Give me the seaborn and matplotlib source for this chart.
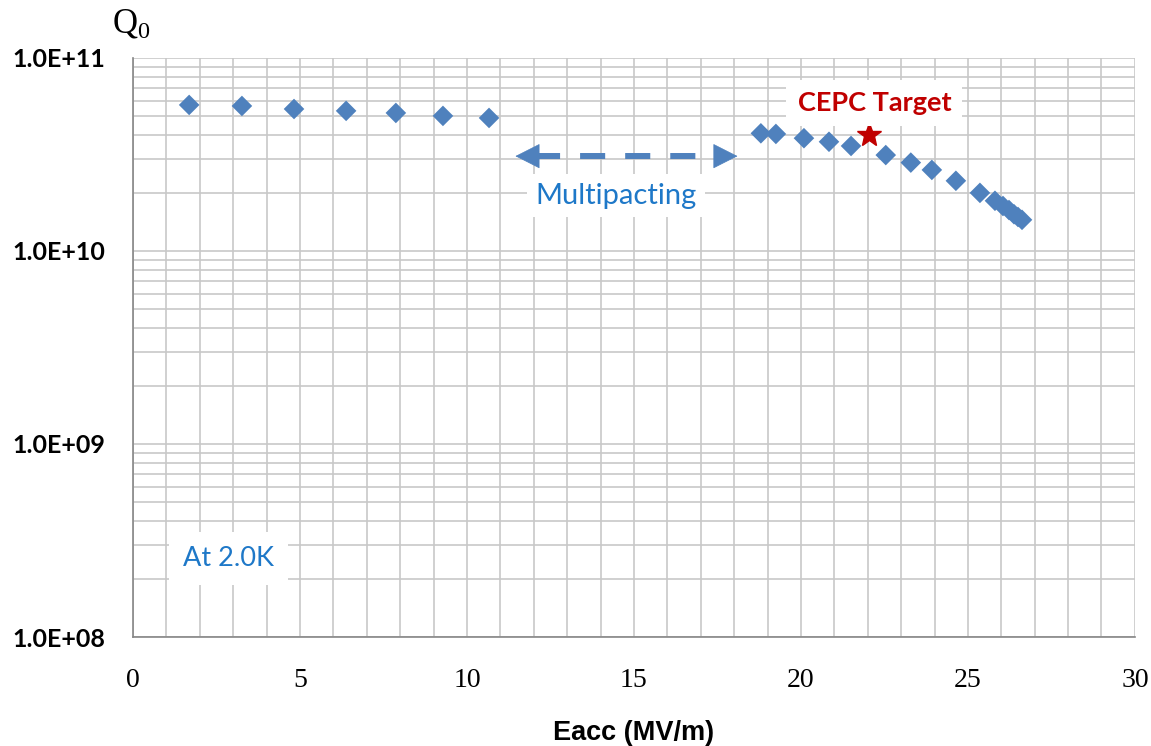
import numpy as np
import pandas as pd
import matplotlib
matplotlib.use('Agg')
import matplotlib.pyplot as plt
import seaborn as sns
from matplotlib.ticker import LogLocator, MultipleLocator, FixedLocator, NullFormatter

# Measured Q0 vs Eacc at 2.0K
eacc = [1.68, 3.26, 4.82, 6.38, 7.87, 9.28, 10.66,
        18.80, 19.25, 20.09, 20.84, 21.50, 22.54, 23.29, 23.92,
        24.64, 25.36, 25.81, 26.05, 26.23, 26.38, 26.50, 26.62]
q0 = [5.71e10, 5.64e10, 5.44e10, 5.32e10, 5.19e10, 5.01e10, 4.89e10,
      4.07e10, 4.04e10, 3.84e10, 3.68e10, 3.50e10, 3.14e10, 2.87e10, 2.63e10,
      2.31e10, 2.00e10, 1.82e10, 1.71e10, 1.63e10, 1.55e10, 1.50e10, 1.45e10]

target_x = [22.05]
target_y = [4.0e10]

mp_range = [11.45, 18.1]
mp_level = 3.1e10

x_ticks = [0, 5, 10, 15, 20, 25, 30]
y_ticks = [1e8, 1e9, 1e10, 1e11]
y_labels = ['1.0E+08', '1.0E+09', '1.0E+10', '1.0E+11']

df = pd.DataFrame({'Eacc': eacc, 'Q0': q0})

sns.set_style('white')
blue = '#4f81bd'
grid_c = '#c8c8c8'

fig = plt.figure(figsize=(11.51, 7.46), dpi=100)
ax = fig.add_axes([0.1156, 0.1461, 0.8704, 0.7762])

ax.set_yscale('log')
ax.set_xlim(0, 30)
ax.set_ylim(1e8, 1e11)

# grid
ax.xaxis.set_major_locator(FixedLocator(x_ticks))
ax.xaxis.set_minor_locator(MultipleLocator(1))
ax.yaxis.set_major_locator(FixedLocator(y_ticks))
ax.yaxis.set_minor_locator(LogLocator(base=10, subs=np.arange(2, 10)))
ax.yaxis.set_minor_formatter(NullFormatter())
ax.grid(True, which='both', color=grid_c, linewidth=1.2)
ax.set_axisbelow(True)

sns.scatterplot(data=df, x='Eacc', y='Q0', marker='D', s=110, color=blue,
                edgecolor='none', ax=ax, zorder=3)
ax.plot(target_x, target_y, marker='*', markersize=18, color='#c00000',
        linestyle='none', zorder=4)

# multipacting dashed double arrow
head = 0.58
ax.plot([mp_range[0] + head, mp_range[1] - head], [mp_level, mp_level], color=blue,
        linewidth=4.3, dashes=(4.2, 3.35), dash_capstyle='butt', zorder=3)
for tip, back in [(mp_range[0], mp_range[0] + head), (mp_range[1], mp_range[1] - head)]:
    ax.annotate('', xy=(tip, mp_level), xytext=(back, mp_level),
                arrowprops=dict(arrowstyle='-|>,head_length=0.75,head_width=0.38',
                                mutation_scale=22, color=blue, lw=0.5,
                                shrinkA=0, shrinkB=0), zorder=3)

# labels
ax.text(22.2, 5.85e10, 'CEPC Target', color='#c00000', fontsize=19.5,
        fontweight='bold', family='Lato', ha='center', va='center',
        bbox=dict(facecolor='white', edgecolor='none', pad=8), zorder=5)
ax.text(14.45, 1.93e10, 'Multipacting', color='#1e78c8', fontsize=21,
        family='Lato', ha='center', va='center',
        bbox=dict(facecolor='white', edgecolor='none', pad=6), zorder=5)
ax.text(2.85, 2.55e8, 'At 2.0K', color='#1e78c8', fontsize=19.5,
        family='Lato', ha='center', va='center',
        bbox=dict(facecolor='white', edgecolor='none', pad=10), zorder=5)

# axes style
for s in ['top', 'right']:
    ax.spines[s].set_visible(False)
for s in ['left', 'bottom']:
    ax.spines[s].set_color('#868686')
    ax.spines[s].set_linewidth(1.2)
ax.tick_params(axis='both', which='major', direction='out', length=6,
               color='#868686', width=1.2, labelcolor='black')
ax.tick_params(axis='both', which='minor', length=0)
ax.tick_params(axis='x', pad=16)
ax.tick_params(axis='y', pad=14)

ax.set_xticklabels([str(t) for t in x_ticks], family='Liberation Serif', fontsize=20)
ax.set_yticklabels(y_labels, family='Lato', fontweight='bold', fontsize=18)

ax.set_xlabel('Eacc (MV/m)', family='Liberation Sans', fontweight='bold',
              fontsize=19.5, labelpad=20, color='black')
ax.set_ylabel('')
fig.text(0.114, 0.968, r'$\mathregular{Q_0}$', family='Liberation Serif',
         fontsize=25, ha='center', va='center', color='black')

fig.savefig('out.png', dpi=100, facecolor='white')
